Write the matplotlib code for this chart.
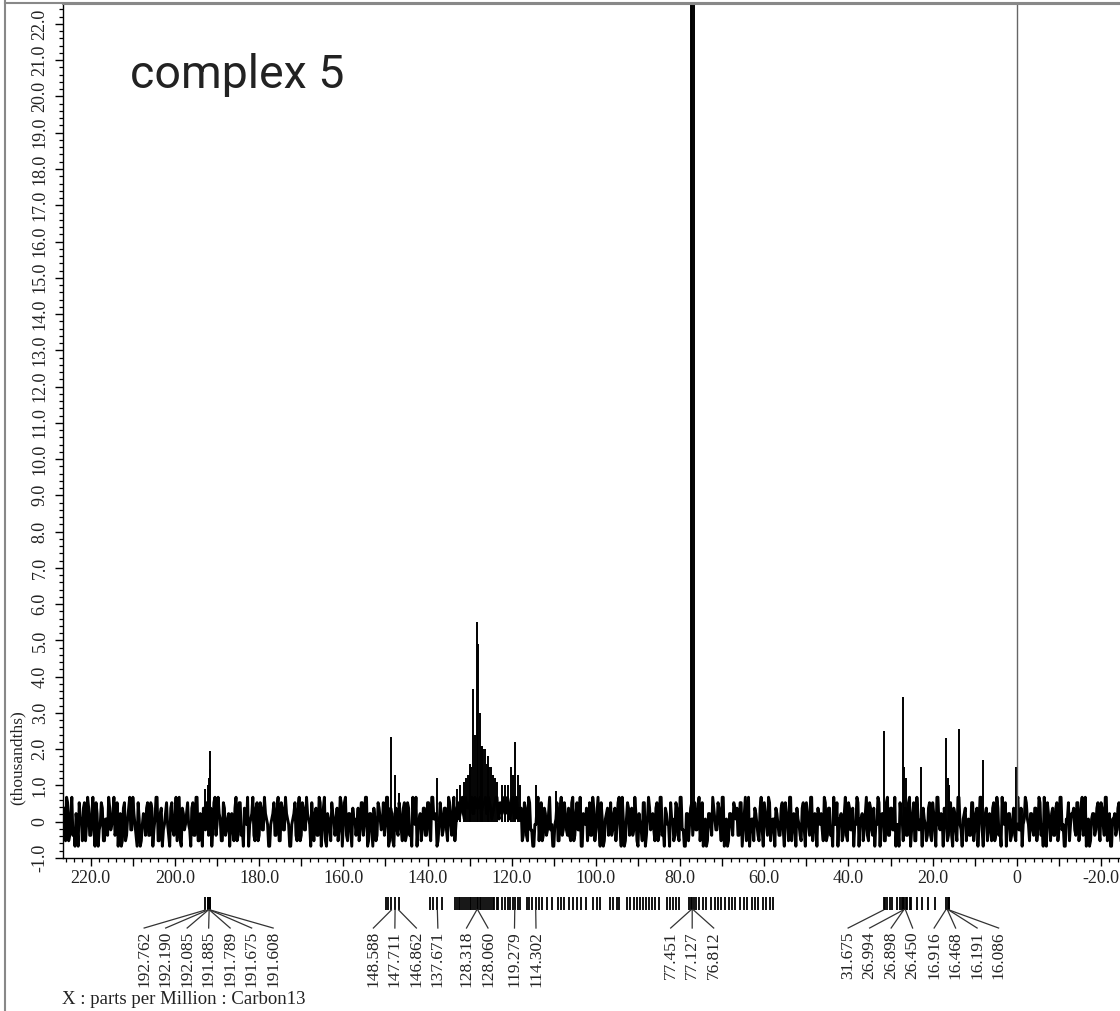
import matplotlib
matplotlib.use('Agg')
import matplotlib.pyplot as plt
from matplotlib.lines import Line2D
from matplotlib.ticker import MultipleLocator, FuncFormatter
from matplotlib.transforms import blended_transform_factory
import numpy as np

plt.rcParams['font.family'] = ['Liberation Serif', 'DejaVu Serif']

# ====data====
# baseline noise, one digit every 0.5 ppm
# (digit 4.5 = zero line, one digit step = noise_unit thousandths)
# set A starts at 226.5 ppm, set B sits halfway between (226.25 ppm)
noise_a_start = 226.5
noise_b_start = 226.25
noise_step_ppm = 0.5
noise_unit = 0.15
noise_a_digits = (
    "7182936051847290638152749306182739405162"  # 226.5 -> 207
    "8273916048273519064837291605827394618250"  # 206.5 -> 187
    "6192837405918273640582917364058192736481"  # 186.5 -> 167
    "7283905162738491605273849160527384916072"  # 166.5 -> 147
    "6182739405172839561827394617586978968797"  # 146.5 -> 127
    "8697689578695869571829304718263940517283"  # 126.5 -> 107
    "7192830641827390516283749051827360418293"  # 106.5 -> 87
    "6182937405182930617283940516273849051627"  # 86.5 -> 67
    "7283940516273849150627384916052738491605"  # 66.5 -> 47
    "6182739405162837490516283749061827394051"  # 46.5 -> 27
    "7293816405172839460518273940615283749061"  # 26.5 -> 7
    "6182739406152837495162738490617283940516"  # 6.5 -> -13
    "72839405162738491605273"                   # -13.5 -> -24.5
)
noise_b_digits = (
    "3916204857192638047159362840715936280457"  # 226.25 -> 206.75
    "2805917364082951736408291573640829517364"  # 206.25 -> 186.75
    "3718205946271839504627183950462718395046"  # 186.25 -> 166.75
    "2907163854190826375418290637185429071638"  # 166.25 -> 146.75
    "3718205946372819504637182948695879697868"  # 146.25 -> 126.75
    "9685796869786958672718304951726304819362"  # 126.25 -> 106.75
    "2816390574291638057426183905742916380574"  # 106.25 -> 86.75
    "3719206485271930648537182064953719206485"  # 86.25 -> 66.75
    "2806193574190628357428061935741806293574"  # 66.25 -> 46.75
    "3917204856291730485639172048561927304856"  # 46.25 -> 26.75
    "2806193574281609357428061935742816093574"  # 26.25 -> 6.75
    "3719205846271930584637192058462719305846"  # 6.25 -> -13.75
    "38172940563817294056381"                   # -14.25 -> -24.75
)

# resolved peaks: position (ppm) and height (thousandths)
peak_ppm = [192.762, 192.190, 192.085, 191.885, 191.789, 191.675, 191.608,
            148.588, 147.711, 146.862, 137.671,
            133.0, 132.2, 131.3, 130.9, 130.5, 130.0, 129.8, 129.6, 129.2, 128.7,
            128.318, 128.060, 127.6, 127.2, 127.0, 126.8, 126.3, 125.9, 125.6, 125.4,
            124.9, 124.5, 124.0, 123.6, 122.4, 121.7,
            121.0, 120.2, 119.6, 119.279, 118.6, 118.1, 114.302, 109.5,
            77.451, 77.127, 76.812,
            31.675, 26.994, 26.898, 26.450, 22.7,
            16.916, 16.468, 16.191, 16.086, 13.8, 8.1, 0.3]
peak_height = [0.9, 1.0, 0.8, 1.2, 1.45, 1.95, 1.3,
               2.33, 1.3, 0.8, 1.2,
               0.9, 1.0, 1.1, 1.2, 1.3, 1.4, 1.6, 1.5, 3.65, 2.4,
               5.5, 4.9, 3.0, 2.1, 2.1, 2.0, 2.0, 1.6, 1.8, 1.5,
               1.5, 1.3, 1.2, 1.1, 1.0, 1.0,
               1.0, 1.5, 1.3, 2.2, 1.3, 1.0, 1.0, 0.85,
               40.0, 45.0, 40.0,
               2.5, 3.45, 1.5, 1.2, 1.5,
               2.3, 1.2, 1.0, 0.9, 2.55, 1.7, 1.5]

# TMS reference line (off scale)
tms_ppm = 0.0
tms_height = 60.0

# peak list: labelled peaks and the other picked peaks (marker row only)
labelled_ppm = [192.762, 192.190, 192.085, 191.885, 191.789, 191.675, 191.608,
                148.588, 147.711, 146.862, 137.671, 128.318, 128.060, 119.279, 114.302,
                77.451, 77.127, 76.812,
                31.675, 26.994, 26.898, 26.450, 16.916, 16.468, 16.191, 16.086]
picked_ppm = [149.9, 149.3, 139.4, 138.7, 136.6,
              133.5, 133.1, 132.6, 132.2, 131.8, 131.3, 130.9, 130.4, 130.0, 129.6, 129.1, 128.7,
              127.6, 127.2, 126.8, 126.3, 125.9, 125.4, 125.0, 124.5, 124.1, 123.6,
              123.2, 122.4, 121.7, 121.0, 120.3, 119.6, 118.6, 118.1,
              116.4, 115.8, 115.1, 113.6, 112.9, 111.6, 110.4,
              109.0, 108.2, 107.5, 106.3, 105.4, 104.6, 103.5, 102.4,
              100.6, 99.8, 99.1, 96.7, 95.9, 95.1, 94.4,
              92.6, 91.8, 91.0, 90.3, 89.5, 88.8, 88.1, 87.4, 86.6, 85.9, 85.1,
              83.0, 82.4, 81.7, 81.0, 80.3, 77.8, 76.3, 75.6,
              74.6, 73.9, 72.7, 71.8, 71.1, 70.2, 69.4, 68.3, 67.6, 66.9, 65.7,
              64.8, 64.1, 63.0, 62.2, 61.4, 60.3, 59.5, 58.6, 58.0,
              31.3, 30.8, 30.2, 29.6, 28.4, 27.8, 27.3, 26.1, 25.5, 25.1,
              23.8, 22.6, 21.1, 19.5]


# ====helpers====
def spread_labels(ppm, gap):
    # place labels left->right, at least `gap` ppm apart, each cluster centred on its peaks
    u = [-p for p in ppm]
    clusters = [[v] for v in u]
    merged = True
    while merged:
        merged = False
        out = []
        for c in clusters:
            out.append(c)
            while len(out) > 1:
                a, b = out[-2], out[-1]
                ca = np.mean(a) + gap * (len(a) - 1) / 2
                cb = np.mean(b) - gap * (len(b) - 1) / 2
                if cb - ca < gap:
                    out[-2:] = [a + b]
                    merged = True
                else:
                    break
        clusters = out
    pos = []
    for c in clusters:
        n = len(c)
        for k in range(n):
            pos.append(-(np.mean(c) + gap * (k - (n - 1) / 2)))
    return pos


def decode(digits, start):
    vals = (np.array([int(c) for c in digits]) - 4.5) * noise_unit
    ppm = start - noise_step_ppm * np.arange(len(vals))
    return ppm, vals


# ====figure====
W, H = 1120, 1011
fig = plt.figure(figsize=(W / 100, H / 100), dpi=100)
ax = fig.add_axes([63 / W, 1 - 858 / H, 1 - 63 / W, (858 - 4) / H])

ppm_a, val_a = decode(noise_a_digits, noise_a_start)
ppm_b, val_b = decode(noise_b_digits, noise_b_start)
noise_ppm = np.concatenate([ppm_a, ppm_b])
noise = np.concatenate([val_a, val_b])
order = np.argsort(-noise_ppm)
ax.plot(noise_ppm[order], noise[order], color='black', linewidth=2.1)
ax.vlines(peak_ppm, 0, peak_height, color='black', linewidth=1.4)
ax.vlines([tms_ppm], 0, [tms_height], color='#666666', linewidth=1.0)

ax.set_xlim(226.6, -24.5)
ax.set_ylim(-1.0, 22.55)

ax.xaxis.set_major_locator(MultipleLocator(10))
ax.xaxis.set_minor_locator(MultipleLocator(2))
ax.xaxis.set_major_formatter(FuncFormatter(
    lambda v, p: ('0' if abs(v) < 1e-9 else f'{v:.1f}') if round(v) % 20 == 0 else ''))
ax.yaxis.set_major_locator(MultipleLocator(1))
ax.yaxis.set_minor_locator(MultipleLocator(0.2))
ax.yaxis.set_major_formatter(FuncFormatter(
    lambda v, p: '0' if abs(v) < 1e-9 else f'{v:.1f}'))

ax.tick_params(axis='both', which='major', length=5.8, width=1.0, color='black',
               labelsize=13, labelcolor='#222222')
ax.tick_params(axis='both', which='minor', length=2.9, width=0.9, color='black')
ax.tick_params(axis='x', which='major', pad=3)
ax.tick_params(axis='y', which='major', pad=4.5)
for lab in ax.get_yticklabels():
    lab.set_rotation(90)
    lab.set_va('center')

ax.spines['right'].set_visible(False)
ax.spines['top'].set_color('#888888')
ax.spines['top'].set_linewidth(1.5)
ax.spines['left'].set_linewidth(1.0)
ax.spines['bottom'].set_linewidth(1.0)

# peak list markers, leader lines and labels under the axis
tr = blended_transform_factory(ax.transData, ax.transAxes)
y_mark_top, y_mark_bot, y_lead_end, y_text = -0.0457, -0.0609, -0.0820, -0.0855
all_picked = picked_ppm + labelled_ppm
ax.vlines(all_picked, y_mark_bot, y_mark_top, transform=tr, color='black',
          linewidth=1.3, clip_on=False)
label_x = spread_labels(labelled_ppm, 21.5 / 4.21)
for p, lx in zip(labelled_ppm, label_x):
    ax.add_line(Line2D([p, lx], [y_mark_bot, y_lead_end], transform=tr, color='#333333',
                       linewidth=0.9, clip_on=False))
    ax.text(lx, y_text, f'{p:.3f}', transform=tr, rotation=90, ha='center', va='top',
            fontsize=12.5, color='#222222', clip_on=False)

# annotations
fig.text(130 / W, 1 - 75 / H, 'complex 5', family=['Roboto', 'DejaVu Sans'],
         fontsize=33.5, ha='left', va='center', color='#222222')
fig.text(18 / W, 1 - 758 / H, '(thousandths)', rotation=90, ha='center', va='center',
         fontsize=12.5, color='#222222')
fig.text(62 / W, 1 - 1000 / H, 'X : parts per Million : Carbon13', ha='left', va='center',
         fontsize=13.5, color='#222222')

# outer frame of the printout
fig.add_artist(Line2D([5 / W, 5 / W], [0, 1], transform=fig.transFigure,
                      color='#888888', linewidth=1.5))
fig.add_artist(Line2D([5 / W, 1], [1 - 3 / H, 1 - 3 / H], transform=fig.transFigure,
                      color='#888888', linewidth=1.5))

fig.savefig('out.png', dpi=100)
